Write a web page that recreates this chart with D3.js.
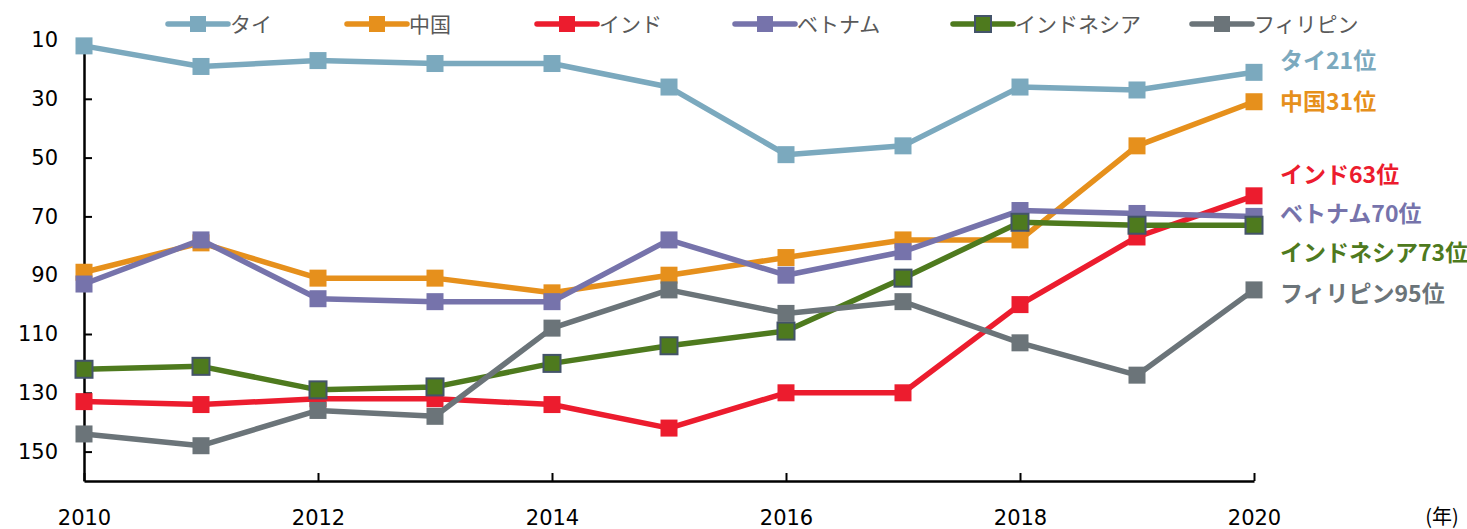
<!DOCTYPE html>
<html><head><meta charset="utf-8">
<script src="https://cdn.jsdelivr.net/npm/d3@7"></script>
<style>
body{margin:0;background:#fff;}
svg{display:block;font-family:"DejaVu Sans",Verdana,sans-serif;}
</style></head>
<body><svg id="c" width="1467" height="529"></svg>
<script>
const years = [2010,2011,2012,2013,2014,2015,2016,2017,2018,2019,2020];
const seriesNames = ["タイ","中国","インド","ベトナム","インドネシア","フィリピン"];
const thailand    = [12,19,17,18,18,26,49,46,26,27,21];
const china       = [89,79,91,91,96,90,84,78,78,46,31];
const india       = [133,134,132,132,134,142,130,130,100,77,63];
const vietnam     = [93,78,98,99,99,78,90,82,68,69,70];
const indonesia   = [122,121,129,128,120,114,109,91,72,73,73];
const philippines = [144,148,136,138,108,95,103,99,113,124,95];
const endLabels = ["タイ21位","中国31位","インド63位","ベトナム70位","インドネシア73位","フィリピン95位"];
const yTicks = [10,30,50,70,90,110,130,150];
const xTicks = [2010,2012,2014,2016,2018,2020];
const colors = ["#7BA9BE","#E6901C","#EC1C2E","#7673AB","#4E7A1E","#6B7479"];
const markerStroke = [null,null,null,null,"#44546A",null];

const values = [thailand,china,india,vietnam,indonesia,philippines];
const svg = d3.select("#c");
const x = d3.scaleLinear().domain([2010,2020]).range([84,1254]);
const y = d3.scaleLinear().domain([10,160]).range([40,481]);

// axes
const yAxis = d3.axisLeft(y).tickValues(yTicks).tickSize(-8).tickSizeOuter(0).tickPadding(26).tickFormat(d3.format("d"));
const gy = svg.append("g").attr("transform","translate(84,0)").call(yAxis);
gy.select(".domain").attr("stroke","#000").attr("stroke-width",2.5);
gy.selectAll(".tick line").attr("stroke","#000").attr("stroke-width",2);
gy.selectAll(".tick text").attr("font-size",21).attr("fill","#000").attr("font-family","DejaVu Sans, Verdana, sans-serif");

const xAxis = d3.axisBottom(x).tickValues(xTicks).tickSize(-8).tickSizeOuter(0).tickPadding(29).tickFormat(d3.format("d"));
const gx = svg.append("g").attr("transform","translate(0,481)").call(xAxis);
gx.select(".domain").attr("stroke","#000").attr("stroke-width",2.5);
gx.selectAll(".tick line").attr("stroke","#000").attr("stroke-width",2);
gx.selectAll(".tick text").attr("font-size",21).attr("fill","#000").attr("font-family","DejaVu Sans, Verdana, sans-serif");

svg.append("text").attr("x",1442).attr("y",524).attr("text-anchor","middle")
  .attr("font-size",20).attr("fill","#000").attr("font-family","'Noto Sans CJK JP',sans-serif").text("(年)");

// series
const line = d3.line().x((d,i)=>x(years[i])).y(d=>y(d));
const ms = 17;
values.forEach((vals,k)=>{
  const g = svg.append("g");
  g.append("path").datum(vals).attr("d",line).attr("fill","none")
    .attr("stroke",colors[k]).attr("stroke-width",5.5).attr("stroke-linejoin","round");
  g.selectAll("rect").data(vals).join("rect")
    .attr("x",(d,i)=>x(years[i])-ms/2).attr("y",d=>y(d)-ms/2)
    .attr("width",ms).attr("height",ms)
    .attr("fill",colors[k])
    .attr("stroke",markerStroke[k]||"none").attr("stroke-width",markerStroke[k]?2:0);
});

// legend
const legX = [168,347,537,735,953,1192];
const legY = 24;
seriesNames.forEach((n,k)=>{
  const g = svg.append("g");
  g.append("line").attr("x1",legX[k]).attr("x2",legX[k]+60).attr("y1",legY).attr("y2",legY)
    .attr("stroke",colors[k]).attr("stroke-width",5.5).attr("stroke-linecap","round");
  g.append("rect").attr("x",legX[k]+30-8).attr("y",legY-8).attr("width",16).attr("height",16)
    .attr("fill",colors[k]).attr("stroke",markerStroke[k]||"none").attr("stroke-width",markerStroke[k]?2:0);
  g.append("text").attr("x",legX[k]+62).attr("y",legY+8).attr("font-size",21)
    .attr("fill","#595959").attr("font-family","'Noto Sans CJK JP',sans-serif").text(n);
});

// end labels
const labelY = [61,102,175,214,253,294];
endLabels.forEach((t,k)=>{
  svg.append("text").attr("x",1280).attr("y",labelY[k]+8).attr("font-size",23).attr("font-weight","bold")
    .attr("fill",colors[k]).attr("font-family","'Noto Sans CJK JP',sans-serif").text(t);
});
</script></body></html>
